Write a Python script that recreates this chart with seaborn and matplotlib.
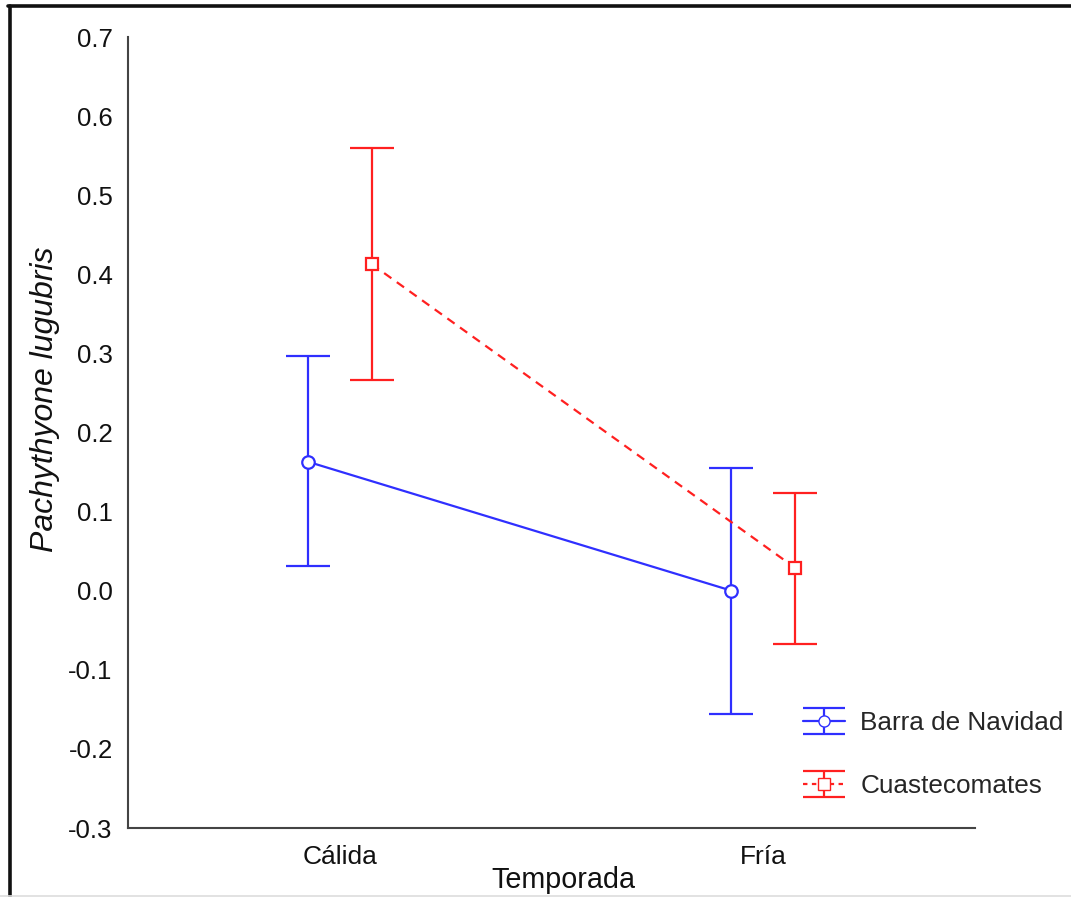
import numpy as np
import pandas as pd
import matplotlib
matplotlib.use("Agg")
import matplotlib.pyplot as plt
import seaborn as sns
from matplotlib.lines import Line2D

# ---- data ----
seasons = ["Cálida", "Fría"]
sites = ["Barra de Navidad", "Cuastecomates"]
barra_mean = [0.163, 0.000]
barra_low = [0.031, -0.156]
barra_high = [0.297, 0.155]
cuaste_mean = [0.413, 0.029]
cuaste_low = [0.266, -0.068]
cuaste_high = [0.560, 0.124]
yticks = [-0.3, -0.2, -0.1, 0.0, 0.1, 0.2, 0.3, 0.4, 0.5, 0.6, 0.7]

BLUE = "#2f2fff"
RED = "#ff2020"

sns.set_style("white")
plt.rcParams["font.family"] = ["Liberation Sans", "DejaVu Sans"]

df = pd.DataFrame({
    "Temporada": seasons * 2,
    "Sitio": [sites[0]] * 2 + [sites[1]] * 2,
    "valor": barra_mean + cuaste_mean,
})

fig = plt.figure(figsize=(10.71, 8.97), dpi=100)
ax = fig.add_axes([128 / 1071, 1 - 828 / 897, (975 - 128) / 1071, (828 - 37) / 897])

sns.pointplot(data=df, x="Temporada", y="valor", hue="Sitio", order=seasons,
              hue_order=sites, palette=[BLUE, RED], dodge=0.15, errorbar=None,
              markers=["o", "s"], linestyles=["-", (0, (4, 3))], ax=ax,
              legend=False, markersize=9, linewidth=1.6,
              markerfacecolor="white", markeredgewidth=1.6)

# style markers: open, white fill
lines = [l for l in ax.lines if len(l.get_xdata()) == 2]
for l, c in zip(lines, [BLUE, RED]):
    l.set_markerfacecolor("white")
    l.set_markeredgecolor(c)
    l.set_zorder(5)

# error bars using positions from seaborn's dodge
series = [(barra_mean, barra_low, barra_high, BLUE), (cuaste_mean, cuaste_low, cuaste_high, RED)]
for l, (m, lo, hi, c) in zip(lines, series):
    xs = np.asarray(l.get_xdata(), dtype=float)
    m = np.asarray(m); lo = np.asarray(lo); hi = np.asarray(hi)
    ax.errorbar(xs, m, yerr=[m - lo, hi - m], fmt="none", ecolor=c,
                elinewidth=1.6, capsize=16, capthick=1.6, zorder=3)

# legend handles (errorbar style)
handles = []
for (mk, ls, c, lab) in [("o", "-", BLUE, sites[0]), ("s", (0, (2, 2)), RED, sites[1])]:
    h = ax.errorbar([np.nan], [np.nan], yerr=[[np.nan], [np.nan]], fmt=mk, linestyle=ls,
                    color=c, ecolor=c, mfc="white", mec=c, markersize=8,
                    elinewidth=1.6, capsize=15, capthick=1.6, lw=1.6, label=lab)
    handles.append(h)
leg = ax.legend(handles=handles, labels=sites, loc="upper left",
                bbox_to_anchor=(803 / 1071, 1 - 711 / 897), bbox_transform=fig.transFigure,
                frameon=False, fontsize=18.8, handlelength=1.6, handletextpad=0.6,
                labelspacing=1.5, borderpad=0, borderaxespad=0)

ax.set_ylim(-0.3, 0.7)
ax.set_xlim(-0.5, 1.5)
ax.set_yticks(yticks)
ax.set_yticklabels([f"{v:.1f}" for v in yticks])
ax.tick_params(axis="both", direction="in", length=5, width=1.3, color="#444444",
               labelsize=18.5, labelcolor="#111111")
ax.tick_params(axis="y", pad=11)
ax.tick_params(axis="x", pad=12)
ax.tick_params(axis="x", labelsize=19)
for s in ["top", "right"]:
    ax.spines[s].set_visible(False)
for s in ["left", "bottom"]:
    ax.spines[s].set_color("#444444")
    ax.spines[s].set_linewidth(1.5)

ax.set_xlabel("Temporada", fontsize=20.7, color="#111111", va="bottom")
ax.xaxis.set_label_coords((563 - 128) / 847, (828 - 894) / 791)
ax.set_ylabel("Pachythyone lugubris", fontsize=23, style="italic", color="#111111")
ax.yaxis.set_label_coords((60 - 128) / 847, (828 - 399) / 791)

# figure frame
fig.add_artist(Line2D([9.5 / 1071, 9.5 / 1071], [0, 1 - 6 / 897], transform=fig.transFigure,
                      color="#111111", lw=2.6))
fig.add_artist(Line2D([8 / 1071, 1], [1 - 6.5 / 897, 1 - 6.5 / 897], transform=fig.transFigure,
                      color="#111111", lw=2.6))
fig.add_artist(Line2D([0, 1], [1 - 895.5 / 897, 1 - 895.5 / 897], transform=fig.transFigure,
                      color="#dddddd", lw=1.2))

fig.savefig("out.png", dpi=100)
